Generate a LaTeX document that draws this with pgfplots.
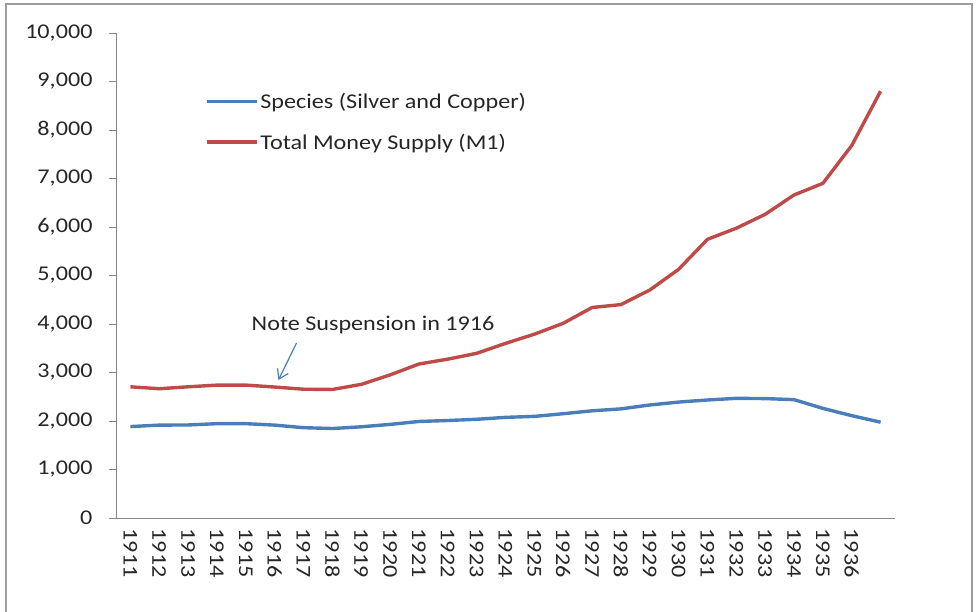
\documentclass[border=0pt]{standalone}
\usepackage{pgfplots}
\pgfplotsset{compat=1.18}
\usepackage{fontspec}
\setmainfont{Carlito}[FakeStretch=1.15]
\usetikzlibrary{arrows.meta}
\definecolor{sblue}{HTML}{4A7EBB}
\definecolor{sred}{HTML}{BE4B48}
\definecolor{axgray}{HTML}{868686}
\definecolor{txt}{HTML}{262626}
\pgfplotstableread{
idx year species m1
0 1911 1885 2705
1 1912 1915 2665
2 1913 1918 2705
3 1914 1945 2740
4 1915 1945 2740
5 1916 1915 2700
6 1917 1862 2655
7 1918 1845 2650
8 1919 1880 2755
9 1920 1930 2950
10 1921 1990 3175
11 1922 2010 3275
12 1923 2035 3395
13 1924 2075 3600
14 1925 2095 3790
15 1926 2150 4014
16 1927 2210 4340
17 1928 2250 4400
18 1929 2330 4700
19 1930 2390 5127
20 1931 2433 5746
21 1932 2467 5975
22 1933 2462 6261
23 1934 2440 6660
24 1935 2260 6900
25 1936 2110 7680
26 1937 1975 8800
}\datatable
\begin{document}
\begin{tikzpicture}[x=1bp,y=1bp]
\useasboundingbox (0,0) rectangle (976,612);
\draw[axgray!80, line width=1.2bp] (6,-5) -- (6,608) -- (972,608) -- (972,-5);
\begin{axis}[
  at={(116bp,94bp)}, anchor=south west,
  scale only axis,
  width=779bp, height=485bp,
  xmin=-0.5, xmax=26.5,
  ymin=0, ymax=10000,
  axis x line*=bottom, axis y line*=left,
  axis line style={axgray, line width=0.9bp, -},
  every tick/.style={axgray, line width=0.9bp},
  tick align=outside,
  ytick={0,1000,...,10000},
  major tick length=7bp,
  xtick={0,...,25},
  xticklabels={1911,1912,1913,1914,1915,1916,1917,1918,1919,1920,1921,1922,1923,1924,1925,1926,1927,1928,1929,1930,1931,1932,1933,1934,1935,1936},
  x tick style={draw=none},
  minor xtick={-0.5,0.5,...,26.5},
  minor x tick style={axgray, line width=0.9bp},
  minor tick length=7bp,
  x tick label style={rotate=-90, anchor=west, font=\fontsize{21bp}{23bp}\selectfont, text=txt, xshift=0bp},
  y tick label style={font=\fontsize{21bp}{23bp}\selectfont, text=txt, xshift=-13bp},
  scaled y ticks=false,
  /pgf/number format/assume math mode=true,
  yticklabel={\pgfmathprintnumber[fixed,1000 sep={,}]{\tick}},
  xtick pos=bottom, ytick pos=left,
  clip=false,
  legend style={draw=none, fill=none, at={(0.114,0.881)}, anchor=north west,
    font=\fontsize{21bp}{23bp}\selectfont, text=txt, row sep=20bp, inner sep=0bp},
  legend cell align=left,
  legend image code/.code={\draw[#1] (0bp,0bp) -- (50bp,0bp);},
]
\addplot[sblue, line width=3.4bp] table[x=idx, y=species] {\datatable};
\addlegendentry{Species (Silver and Copper)}
\addplot[sred, line width=3.4bp] table[x=idx, y=m1] {\datatable};
\addlegendentry{Total Money Supply (M1)}
\node[font=\fontsize{21bp}{23bp}\selectfont, text=txt] at (axis cs:8.41,3979) {Note Suspension in 1916};
\draw[sblue, line width=1.2bp, -{Straight Barb[length=9bp, width=12bp]}] (axis cs:5.757,3608) -- (axis cs:5.13,2845);
\end{axis}
\end{tikzpicture}
\end{document}
